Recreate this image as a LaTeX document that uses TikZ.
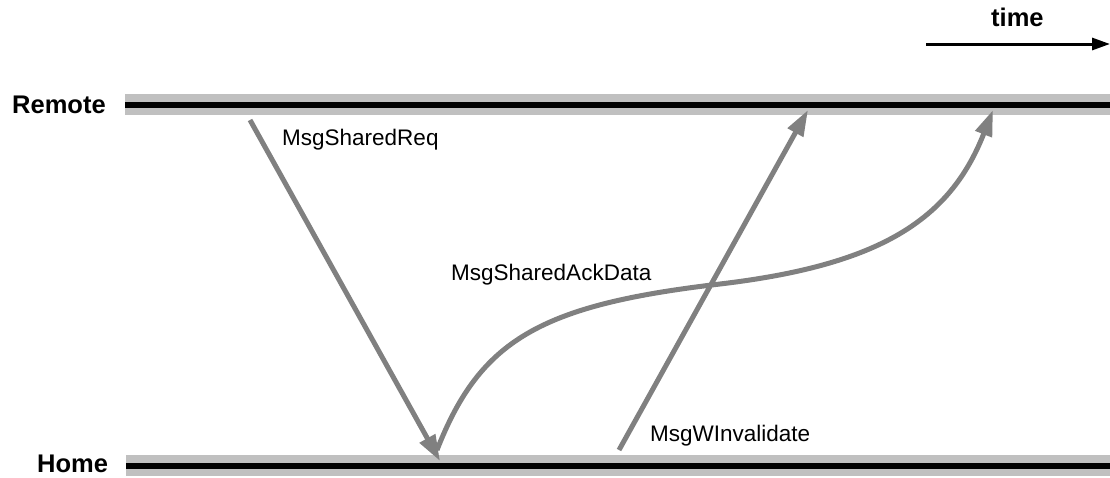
\documentclass[tikz,border=0pt]{standalone}
\usepackage{fontspec}
\setmainfont{Liberation Sans}
\usetikzlibrary{arrows.meta}
\definecolor{msggray}{RGB}{128,128,128}
\definecolor{bandgray}{RGB}{192,192,192}
\begin{document}
\begin{tikzpicture}[x=1pt,y=-1pt,
  lbl/.style={inner sep=0pt,anchor=base west,font=\fontsize{22.5}{26}\selectfont},
  blbl/.style={inner sep=0pt,anchor=base west,font=\fontsize{25.5}{29}\selectfont\bfseries},
  band/.style={draw=bandgray,line width=21pt},
  core/.style={draw=black,line width=6pt},
  msg/.style={draw=msggray,line width=5pt,-{Triangle[length=26pt,width=17pt]}},
  timearrow/.style={draw=black,line width=3pt,-{Triangle[length=18pt,width=12pt]}}]
\useasboundingbox (0,0) rectangle (1110,477);
% bars
\coordinate (rL) at (125,104.5);
\coordinate (rR) at (1110,104.5);
\coordinate (hL) at (126,465.5);
\coordinate (hR) at (1110,465.5);
\draw[band] (rL) -- (rR);
\draw[core] (rL) -- (rR);
\draw[band] (hL) -- (hR);
\draw[core] (hL) -- (hR);
% labels
\node[blbl] (remote) at (12,113) {Remote};
\node[blbl] (home) at (37,472.5) {Home};
\node[blbl] (time) at (991,26) {time};
\coordinate (t0) at (926,44);
\coordinate (t1) at (1110,44);
\draw[timearrow] (t0) -- (t1);
% messages
\coordinate (a0) at (250,120);
\coordinate (a1) at (440,461);
\draw[msg] (a0) -- (a1);
\coordinate (b0) at (619,450);
\coordinate (b1) at (808,110);
\draw[msg] (b0) -- (b1);
\coordinate (c0) at (437,450);
\coordinate (cm) at (720,284);
\coordinate (c1) at (993,110);
\draw[msg] (c0) .. controls (480,340) and (540,305) .. (cm)
  .. controls (880,265) and (950,220) .. (c1);
\node[lbl] (req) at (282,145) {MsgSharedReq};
\node[lbl] (ack) at (451,280) {MsgSharedAckData};
\node[lbl] (inv) at (650,441) {MsgWInvalidate};
\end{tikzpicture}
\end{document}
